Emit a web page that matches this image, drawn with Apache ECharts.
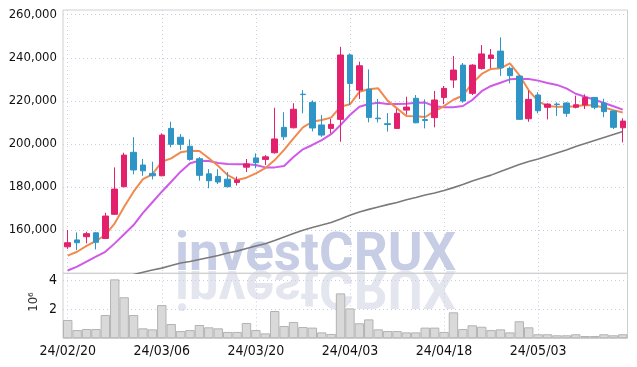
<!DOCTYPE html>
<html>
<head>
<meta charset="utf-8">
<script src="https://cdn.jsdelivr.net/npm/echarts@6/dist/echarts.min.js"></script>
<style>
html,body{margin:0;padding:0;background:#fff;}
#c{width:637px;height:367px;}
</style>
</head>
<body>
<div id="c"></div>
<script>
const dates = ['24/02/20','24/02/21','24/02/22','24/02/23','24/02/26','24/02/27','24/02/28','24/02/29',
'24/03/04','24/03/05','24/03/06','24/03/07','24/03/08','24/03/11','24/03/12','24/03/13','24/03/14','24/03/15','24/03/18','24/03/19','24/03/20','24/03/21','24/03/22','24/03/25','24/03/26','24/03/27','24/03/28','24/03/29',
'24/04/01','24/04/02','24/04/03','24/04/04','24/04/05','24/04/08','24/04/09','24/04/11','24/04/12','24/04/15','24/04/16','24/04/17','24/04/18','24/04/19','24/04/22','24/04/23','24/04/24','24/04/25','24/04/26','24/04/29','24/04/30',
'24/05/02','24/05/03','24/05/07','24/05/08','24/05/09','24/05/10','24/05/13','24/05/14','24/05/16','24/05/17','24/05/20'];

const opens = [152200,155400,156900,158700,156100,167300,180100,196100,190200,186300,185200,207200,203100,198900,193100,186100,184900,183600,182100,189200,193500,192800,195900,207700,207500,223100,219300,208800,207200,211400,241300,225000,225400,212000,209400,207200,215700,221200,211300,212200,221600,229700,236600,223500,235000,239700,243100,235100,231500,211700,222700,217000,218500,219000,217000,218100,221600,219000,215300,207500];
const closes = [154100,154100,158300,154300,166500,179000,194800,187900,187500,185200,204100,199800,199800,192800,185400,182900,182300,180100,183200,190700,191300,194000,202300,203300,216100,222900,207400,204100,209100,241300,228100,236300,212300,211700,209000,214200,217100,209800,210900,220400,225800,234300,219900,236600,241800,241300,235400,231700,211400,220700,215400,218500,218300,214200,218200,221500,217000,215000,207700,210600];
const lows = [151200,150700,153800,151000,155800,167000,179900,185900,185200,183500,185000,198400,197200,192200,182900,179400,181400,179900,180700,186900,188700,190200,195500,201800,207200,214200,205800,203300,204900,201000,218100,220900,210000,210000,205700,207100,213600,209600,207200,207700,218500,226000,219100,222700,234500,235100,231600,228100,211300,210300,214200,211400,213000,212600,216500,216200,216100,212400,206900,200700];
const highs = [160000,158900,159200,159000,168000,189100,195900,203100,193000,191700,204900,210300,204600,202100,193900,188300,188300,186900,184800,193000,195600,194800,216800,214700,218900,225000,220200,213400,211600,245100,242000,238200,234600,220900,214300,216200,221900,222700,220700,224600,226900,240800,237600,237000,245900,244100,249500,235900,232000,224800,224000,218900,219300,219400,222400,223000,221800,221000,215500,211900];

const ma5 = [148100,149900,152600,154900,157700,163100,170800,177800,183600,185900,191700,193300,196100,196800,196700,193300,189700,185500,183200,184300,186300,188700,192500,197200,202600,207700,210300,211100,212200,217300,218400,224200,225400,225800,220100,216500,213000,212800,212500,215200,217600,220500,222500,228100,232500,234800,235100,237400,232000,224900,219900,217600,217300,217300,217500,218100,217800,216900,215700,214600];
const ma20 = [141200,143000,145300,147600,149900,153800,158000,162300,168000,172900,177800,182400,187100,191000,192200,192050,191100,190700,190500,190500,190200,189100,189100,189700,193900,197500,199500,201800,204500,208800,213400,217300,218500,219100,218500,218500,218700,219100,219200,217500,217000,217000,217600,220400,224500,226900,228400,230000,230300,230200,229400,228300,227400,225800,223300,221900,220500,219000,217500,215900];
const maLong = [null,null,null,null,null,null,null,139300,140400,141400,142300,143500,144700,145400,146300,147200,148200,149300,150200,151400,152600,153600,155100,156800,158400,159900,161200,162300,163500,165100,166900,168400,169600,170700,171800,172800,174100,175100,176300,177200,178400,179700,181100,182800,184200,185500,187200,188800,190400,191800,193000,194400,195800,197200,198800,200200,201600,203000,204400,205800];

const volumes = [1270000,570000,640000,640000,1610000,4080000,2840000,1610000,690000,620000,2300000,990000,500000,570000,920000,760000,690000,440000,440000,1060000,570000,340000,1890000,850000,1130000,780000,740000,410000,300000,3110000,2070000,1040000,1310000,620000,500000,500000,410000,410000,740000,740000,440000,1800000,640000,900000,800000,570000,620000,410000,1180000,760000,280000,280000,210000,210000,280000,160000,160000,280000,210000,280000];

const priceTicks = [160000,180000,200000,220000,240000,260000];
const volTicks = [2000000,4000000];
const volUnitLabel = '10\u2076';
const watermark = 'investCRUX';

const UP = '#e2206c', DOWN = '#2e95c6';
const GRID_C = '#c9cde0';
const FONT = '"DejaVu Sans Condensed","DejaVu Sans",sans-serif';

const candleData = opens.map((o,i)=>[o, closes[i], lows[i], highs[i]]);

const chart = echarts.init(document.getElementById('c'), null, {renderer:'canvas'});
const L = 63, R = 9.5;
const WM = 53;
chart.setOption({
  animation:false,
  backgroundColor:'#fff',
  grid:[
    {left:L, right:R, top:10, height:263.3, show:true, borderColor:'#cfcfcf', borderWidth:1, backgroundColor:'transparent'},
    {left:L, right:R, top:273.3, height:65, show:true, borderColor:'#cfcfcf', borderWidth:1, backgroundColor:'transparent'}
  ],
  xAxis:[
    {type:'category', gridIndex:0, data:dates, boundaryGap:true,
     axisLine:{show:false}, axisTick:{show:false, interval:9, alignWithLabel:true}, axisLabel:{show:false, interval:9},
     splitLine:{show:true, interval:9, alignWithLabel:true, lineStyle:{color:GRID_C, type:[1,3], width:1}}},
    {type:'category', gridIndex:1, data:dates, boundaryGap:true,
     axisLine:{show:false}, axisTick:{show:false, interval:9, alignWithLabel:true},
     axisLabel:{show:true, interval:9, color:'#111', fontFamily:FONT, fontSize:14, margin:6},
     splitLine:{show:true, interval:9, alignWithLabel:true, lineStyle:{color:GRID_C, type:[1,3], width:1}}}
  ],
  yAxis:[
    {type:'value', gridIndex:0, min:139900, max:262200, 
     axisLine:{show:false},
     axisTick:{show:false, customValues:priceTicks},
     axisLabel:{customValues:priceTicks, color:'#111', fontFamily:FONT, fontSize:13, margin:6,
       formatter:v=>v.toLocaleString('en-US')},
     splitLine:{show:true, lineStyle:{color:GRID_C, type:[1,3], width:1}}},
    {type:'value', gridIndex:1, min:0, max:4500000,
     axisLine:{show:false},
     axisTick:{show:false, customValues:volTicks},
     axisLabel:{customValues:volTicks, color:'#111', fontFamily:FONT, fontSize:14, margin:6,
       formatter:v=>String(v/1000000)},
     splitLine:{show:true, lineStyle:{color:GRID_C, type:[1,3], width:1}}}
  ],
  graphic:[
    {type:'text', x:175, y:273 - 0.3*WM, z:-1, silent:true,
     style:{text:watermark, fontFamily:'Roboto, sans-serif', fontWeight:'bold', fontSize:WM, fill:'#c6cde4', verticalAlign:'middle'}},
    {type:'text', x:175, y:268 + 0.3*WM, scaleY:-1, z:-1, silent:true,
     style:{text:watermark, fontFamily:'Roboto, sans-serif', fontWeight:'bold', fontSize:WM, fill:'#e4e6ef', verticalAlign:'middle'}},
    {type:'text', x:34, y:302, rotation:Math.PI/2, silent:true,
     style:{text:volUnitLabel, fontFamily:FONT, fontSize:13, fill:'#333', align:'center', verticalAlign:'middle'}}
  ],
  series:[
    {type:'line', xAxisIndex:0, yAxisIndex:0, data:maLong, symbol:'none', clip:true, connectNulls:false,
     lineStyle:{color:'#7a7a7a', width:1.6}, z:3},
    {type:'line', xAxisIndex:0, yAxisIndex:0, data:ma20, symbol:'none', clip:true,
     lineStyle:{color:'#cf5ae8', width:2}, z:3},
    {type:'line', xAxisIndex:0, yAxisIndex:0, data:ma5, symbol:'none', clip:true,
     lineStyle:{color:'#f08a4e', width:2}, z:4},
    {type:'candlestick', xAxisIndex:0, yAxisIndex:0, data:candleData, barWidth:6, z:5,
     itemStyle:{color:UP, color0:DOWN, borderColor:UP, borderColor0:DOWN, borderWidth:1}},
    {type:'bar', xAxisIndex:1, yAxisIndex:1, data:volumes, barCategoryGap:'0%', barWidth:'100%',
     itemStyle:{color:'#d9d9d9', borderColor:'#b3b3b3', borderWidth:1}}
  ]
});
</script>
</body>
</html>
